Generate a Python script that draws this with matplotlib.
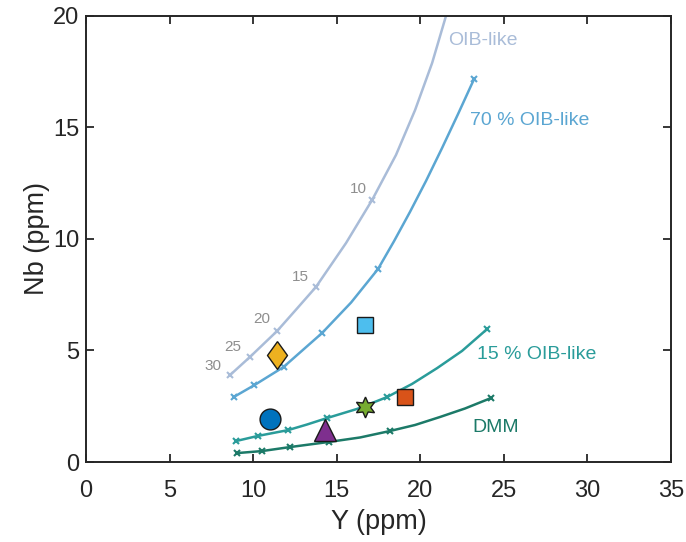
import numpy as np
import matplotlib
matplotlib.use('Agg')
import matplotlib.pyplot as plt

plt.rcParams['font.family'] = ['Liberation Sans', 'DejaVu Sans']

# melting-curve markers (degrees of melting 30,25,20,15,10 ...)
oib_mx = [8.62, 9.81, 11.43, 13.76, 17.12]
oib_my = [3.90, 4.71, 5.87, 7.85, 11.75]
# line path (runs past the top of the frame)
oib_lx = [8.62, 9.81, 11.43, 12.60, 13.76, 15.56, 17.12, 18.55, 19.69, 20.71, 21.54, 21.9]
oib_ly = [3.90, 4.71, 5.87, 6.86, 7.85, 9.82, 11.75, 13.77, 15.78, 17.89, 20.0, 21.2]

p70_mx = [8.83, 10.08, 11.82, 14.12, 17.47, 23.22]
p70_my = [2.91, 3.45, 4.26, 5.78, 8.65, 17.17]
p70_lx = [8.83, 10.08, 11.82, 14.12, 15.86, 17.47, 18.43, 19.39, 20.35, 21.30, 22.26, 23.22]
p70_ly = [2.91, 3.45, 4.26, 5.78, 7.15, 8.65, 9.90, 11.22, 12.61, 14.07, 15.60, 17.17]

p15_mx = [8.98, 10.29, 12.09, 14.42, 18.01, 24.00]
p15_my = [0.94, 1.17, 1.43, 1.97, 2.91, 5.96]
p15_lx = [8.98, 10.29, 12.09, 13.22, 14.42, 16.22, 18.01, 19.51, 21.01, 22.50, 24.00]
p15_ly = [0.94, 1.17, 1.43, 1.68, 1.97, 2.38, 2.91, 3.50, 4.21, 4.98, 5.96]

dmm_mx = [9.04, 10.53, 12.21, 14.54, 18.19, 24.24]
dmm_my = [0.40, 0.49, 0.67, 0.90, 1.39, 2.87]
dmm_lx = [9.04, 10.53, 12.21, 14.54, 16.40, 18.19, 19.69, 21.19, 22.68, 24.24]
dmm_ly = [0.40, 0.49, 0.67, 0.90, 1.10, 1.39, 1.66, 2.02, 2.40, 2.87]

melt_labels = ['30', '25', '20', '15', '10']

# samples
smp_x = [11.0, 11.4, 16.7, 16.7, 14.3, 19.1]
smp_y = [1.95, 4.8, 6.15, 2.47, 1.45, 2.9]
diamond = [(0, 1), (0.72, 0), (0, -1), (-0.72, 0), (0, 1)]
smp_marker = ['o', diamond, 's', (6, 1, 0), '^', 's']
smp_color = ['#0072BD', '#EDB120', '#4DBEEE', '#77AC30', '#7E2F8E', '#D95319']
smp_size = [15, 20, 12, 15, 16, 12]

c_oib = '#A9BCD8'
c_70 = '#5BA6D2'
c_15 = '#2A9C9A'
c_dmm = '#1C7A68'

fig = plt.figure(figsize=(6.86, 5.42), dpi=100)
ax = fig.add_axes([0.1254, 0.1476, 0.8526, 0.8229])

for lx, ly, mx, my, c in [(oib_lx, oib_ly, oib_mx, oib_my, c_oib),
                          (p70_lx, p70_ly, p70_mx, p70_my, c_70),
                          (p15_lx, p15_ly, p15_mx, p15_my, c_15),
                          (dmm_lx, dmm_ly, dmm_mx, dmm_my, c_dmm)]:
    ax.plot(lx, ly, '-', color=c, lw=1.8, zorder=2, solid_joinstyle='round')
    ax.plot(mx, my, 'x', color=c, ms=4.5, mew=1.5, zorder=2)

for x, y, m, c, s in zip(smp_x, smp_y, smp_marker, smp_color, smp_size):
    ax.plot(x, y, marker=m, color=c, ms=s, mec='#1a1a1a', mew=1.0,
            ls='none', zorder=3)

# melting degree labels
lab_xy = [(7.6, 4.3), (8.8, 5.15), (10.5, 6.4), (12.8, 8.3), (16.3, 12.25)]
for t, (x, y) in zip(melt_labels, lab_xy):
    ax.text(x, y, t, color='#8E8E8E', fontsize=11, ha='center', va='center')

ax.text(21.65, 18.9, 'OIB-like', color=c_oib, fontsize=14, va='center')
ax.text(23.0, 15.3, '70 % OIB-like', color=c_70, fontsize=14, va='center')
ax.text(23.4, 4.8, '15 % OIB-like', color=c_15, fontsize=14, va='center')
ax.text(23.1, 1.55, 'DMM', color=c_dmm, fontsize=14, va='center')

ax.set_xlim(0, 35)
ax.set_ylim(0, 20)
ax.set_xticks(np.arange(0, 36, 5))
ax.set_yticks(np.arange(0, 21, 5))
ax.tick_params(direction='in', length=6, width=1.3, top=True, right=True,
               labelsize=17, colors='#262626')
ax.tick_params(axis='x', pad=13)
ax.tick_params(axis='y', pad=5)
for sp in ax.spines.values():
    sp.set_linewidth(1.4)
    sp.set_color('#262626')
ax.set_xlabel('Y (ppm)', fontsize=19.5, color='#262626', labelpad=5)
ax.set_ylabel('Nb (ppm)', fontsize=19.5, color='#262626', labelpad=2)

fig.savefig('out.png', dpi=100)
